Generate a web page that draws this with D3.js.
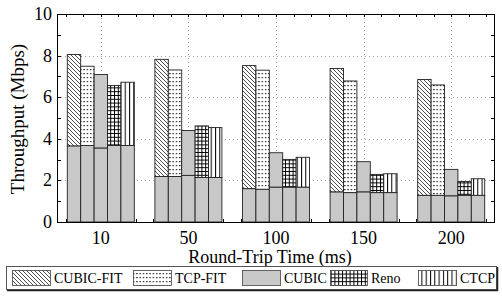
<!DOCTYPE html>
<html>
<head>
<meta charset="utf-8">
<script src="https://cdn.jsdelivr.net/npm/d3@7"></script>
<style>
  body { margin: 0; background: #fff; }
  svg { display: block; font-family: "Liberation Serif", "DejaVu Serif", serif; }
</style>
</head>
<body>
<svg id="chart" width="502" height="297"></svg>
<script>
// round trip times on the x axis
var rtts = ["10", "50", "100", "150", "200"];
var protocols = ["CUBIC-FIT", "TCP-FIT", "CUBIC", "Reno", "CTCP"];

// gray part of each bar (competing CUBIC flow), Mbps
var cubicFitBase = [3.65, 2.19, 1.60, 1.44, 1.28];
var tcpFitBase   = [3.68, 2.19, 1.57, 1.41, 1.28];
var cubicBase    = [3.55, 2.24, 1.67, 1.44, 1.25];
var renoBase     = [3.68, 2.14, 1.67, 1.41, 1.28];
var ctcpBase     = [3.68, 2.14, 1.67, 1.41, 1.28];

// top of each bar, Mbps
var cubicFitTotal = [8.05, 7.82, 7.52, 7.38, 6.85];
var tcpFitTotal   = [7.49, 7.31, 7.30, 6.78, 6.59];
var cubicTotal    = [7.09, 4.40, 3.33, 2.90, 2.53];
var renoTotal     = [6.56, 4.62, 3.01, 2.29, 1.95];
var ctcpTotal     = [6.72, 4.54, 3.11, 2.32, 2.08];

var yTicks = [0, 2, 4, 6, 8, 10];

var bases = [cubicFitBase, tcpFitBase, cubicBase, renoBase, ctcpBase];
var totals = [cubicFitTotal, tcpFitTotal, cubicTotal, renoTotal, ctcpTotal];
var fills = ["url(#diag)", "url(#dots)", "#c8c8c8", "url(#grid)", "url(#vert)"];

///////////////////////////////////////////////////////////////////////////////

(function () {
  var svg = d3.select("#chart");
  var left = 57, right = 495, yTop = 14, yBot = 222;

  var x = d3.scaleLinear().domain([0.5, rtts.length + 0.5]).range([left, right]);
  var y = d3.scaleLinear().domain([0, 10]).range([yBot, yTop]);
  var barW = 0.153;

  // hatch patterns
  var defs = svg.append("defs");
  var pat = function (id, w, h) {
    var p = defs.append("pattern").attr("id", id)
      .attr("patternUnits", "userSpaceOnUse")
      .attr("width", w).attr("height", h);
    p.append("rect").attr("width", w).attr("height", h).attr("fill", "#fff");
    return p;
  };
  var p1 = pat("diag", 4, 4);
  p1.append("path").attr("d", "M-1,-1L5,5M-1,3L1,5M3,-1L5,1")
    .attr("stroke", "#000").attr("stroke-width", 0.7);
  var p2 = pat("dots", 3.3, 4);
  p2.append("rect").attr("x", 1).attr("y", 1).attr("width", 1.2).attr("height", 1.2).attr("fill", "#000");
  var p3 = pat("grid", 3.8, 3.8);
  p3.append("path").attr("d", "M0,0.5H3.8M0.5,0V3.8")
    .attr("stroke", "#000").attr("stroke-width", 1);
  var p4 = pat("vert", 4.3, 4);
  p4.append("path").attr("d", "M0.5,0V4")
    .attr("stroke", "#000").attr("stroke-width", 1);

  // grid
  var grid = svg.append("g").attr("stroke", "#888").attr("stroke-width", 0.8)
    .attr("stroke-dasharray", "1,3");
  grid.selectAll("line.h").data([2, 4, 6, 8]).enter().append("line")
    .attr("x1", left).attr("x2", right)
    .attr("y1", function (d) { return Math.round(y(d)) + 0.5; })
    .attr("y2", function (d) { return Math.round(y(d)) + 0.5; });
  grid.selectAll("line.v").data(d3.range(1, rtts.length + 1)).enter().append("line")
    .attr("y1", yTop).attr("y2", yBot)
    .attr("x1", function (d) { return Math.round(x(d)) + 0.5; })
    .attr("x2", function (d) { return Math.round(x(d)) + 0.5; });

  // ticks, inward, all four sides
  var ticks = svg.append("g").attr("stroke", "#000").attr("stroke-width", 1);
  var xMinor = d3.range(3, 28).map(function (i) { return i * 0.2; });
  xMinor.forEach(function (v) {
    var px = Math.round(x(v)) + 0.5;
    ticks.append("line").attr("x1", px).attr("x2", px).attr("y1", yTop).attr("y2", yTop + 3);
    ticks.append("line").attr("x1", px).attr("x2", px).attr("y1", yBot).attr("y2", yBot - 3);
  });
  d3.range(1, 10).forEach(function (v) {
    var py = Math.round(y(v)) + 0.5;
    ticks.append("line").attr("x1", left).attr("x2", left + 4).attr("y1", py).attr("y2", py);
    ticks.append("line").attr("x1", right).attr("x2", right - 4).attr("y1", py).attr("y2", py);
  });

  // bars: patterned top segment over gray base
  var bars = svg.append("g");
  protocols.forEach(function (name, j) {
    rtts.forEach(function (r, i) {
      var x0 = x(i + 1 + (j - 2.5) * barW);
      var w = x(barW) - x(0);
      bars.append("rect")
        .attr("x", x0).attr("width", w)
        .attr("y", y(totals[j][i])).attr("height", y(bases[j][i]) - y(totals[j][i]))
        .attr("fill", fills[j]).attr("stroke", "#222").attr("stroke-width", 0.9);
      bars.append("rect")
        .attr("x", x0).attr("width", w)
        .attr("y", y(bases[j][i])).attr("height", y(0) - y(bases[j][i]))
        .attr("fill", "#c8c8c8").attr("stroke", "#222").attr("stroke-width", 0.9);
    });
  });

  // axes box
  svg.append("rect").attr("x", left + 0.5).attr("y", yTop + 0.5)
    .attr("width", right - left - 1).attr("height", yBot - yTop)
    .attr("fill", "none").attr("stroke", "#000").attr("stroke-width", 1);

  // tick labels
  svg.selectAll("text.yt").data(yTicks).enter().append("text")
    .attr("x", left - 5).attr("y", function (d) { return y(d) + 6; })
    .attr("text-anchor", "end").attr("font-size", 18)
    .text(function (d) { return d; });
  svg.selectAll("text.xt").data(rtts).enter().append("text")
    .attr("x", function (d, i) { return x(i + 1); }).attr("y", 244)
    .attr("text-anchor", "middle").attr("font-size", 18)
    .text(function (d) { return d; });

  svg.append("text").attr("x", 270).attr("y", 263)
    .attr("text-anchor", "middle").attr("font-size", 18)
    .text("Round-Trip Time (ms)");
  svg.append("text")
    .attr("transform", "translate(24,119) rotate(-90)")
    .attr("text-anchor", "middle").attr("font-size", 19)
    .text("Throughput (Mbps)");

  // legend
  var lg = svg.append("g");
  lg.append("rect").attr("x", 6.5).attr("y", 266.5).attr("width", 490).attr("height", 23)
    .attr("fill", "#fff").attr("stroke", "#555").attr("stroke-width", 1);
  lg.append("path").attr("d", "M7,290.5H497.5V267").attr("fill", "none")
    .attr("stroke", "#222").attr("stroke-width", 1.5);
  var legX = [12, 133, 242, 330, 418];
  var legW = [38, 38, 38, 37, 38];
  protocols.forEach(function (name, j) {
    lg.append("rect").attr("x", legX[j] + 0.5).attr("y", 270.5)
      .attr("width", legW[j]).attr("height", 15)
      .attr("fill", fills[j]).attr("stroke", "#444").attr("stroke-width", 0.8);
    lg.append("text").attr("x", legX[j] + legW[j] + 4).attr("y", 283)
      .attr("font-size", 14).text(name);
  });
})();
</script>
</body>
</html>
